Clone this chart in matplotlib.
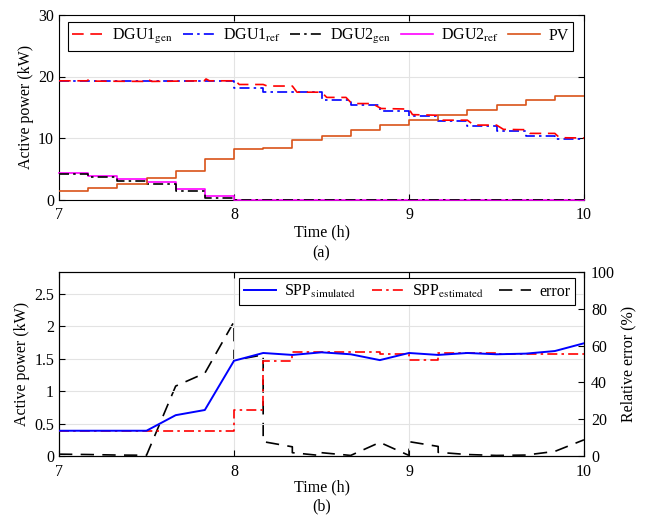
import numpy as np
import matplotlib
matplotlib.use("Agg")
import matplotlib.pyplot as plt

plt.rcParams['font.family'] = ['Liberation Serif', 'DejaVu Serif']
plt.rcParams['mathtext.fontset'] = 'stix'
plt.rcParams['font.size'] = 11.5

# ---- time grid (10-minute steps, 7 h to 10 h) ----
t_edges = [7.0, 7.1667, 7.3333, 7.5, 7.6667, 7.8333, 8.0, 8.1667, 8.3333, 8.5,
           8.6667, 8.8333, 9.0, 9.1667, 9.3333, 9.5, 9.6667, 9.8333, 10.0]

# ---- panel (a) ----
pv = [1.4, 1.9, 2.5, 3.5, 4.7, 6.6, 8.2, 8.4, 9.6, 10.4, 11.3, 12.1, 13.0, 13.8,
      14.6, 15.3, 16.2, 16.8]
dgu1_ref = [19.2, 19.2, 19.2, 19.2, 19.2, 19.2, 18.2, 17.4, 17.4, 16.2, 15.4, 14.4,
            13.5, 12.8, 11.9, 11.2, 10.4, 9.8]
dgu2_ref = [4.25, 3.9, 3.4, 2.8, 1.76, 0.6, 0, 0, 0, 0, 0, 0, 0, 0, 0, 0, 0, 0]
dgu2_gen = [4.1, 3.65, 3.05, 2.45, 1.45, 0.3, 0, 0, 0, 0, 0, 0, 0, 0, 0, 0, 0, 0]

t_gen1 = [7.0, 7.16, 7.17, 7.19, 7.5, 7.51, 7.53, 7.83, 7.84, 7.86, 7.99, 8.0, 8.03,
          8.1667, 8.19, 8.3333, 8.36, 8.5, 8.53, 8.64, 8.6667, 8.68, 8.79, 8.84,
          9.0, 9.02, 9.1667, 9.19, 9.3333, 9.37, 9.5, 9.54, 9.6667, 9.69, 9.8333,
          9.86, 10.0]
dgu1_gen = [19.3, 19.3, 19.5, 19.25, 19.2, 19.5, 19.2, 19.3, 19.6, 19.3, 19.3, 19.5,
            18.7, 18.7, 18.45, 18.45, 17.45, 17.45, 16.6, 16.6, 15.8, 15.6, 15.6,
            14.8, 14.7, 13.8, 13.7, 12.9, 12.9, 12.1, 12.1, 11.4, 11.35, 10.75,
            10.75, 10.05, 10.0]

# ---- panel (b) ----
spp_sim = [0.39, 0.39, 0.39, 0.39, 0.63, 0.71, 1.47, 1.59, 1.56, 1.60, 1.57, 1.48,
           1.59, 1.56, 1.59, 1.57, 1.58, 1.62, 1.74]
spp_est = [0.39, 0.39, 0.39, 0.39, 0.39, 0.39, 0.71, 1.47, 1.60, 1.60, 1.60, 1.57,
           1.48, 1.59, 1.59, 1.58, 1.58, 1.58]
t_err = [7.0, 7.1667, 7.3333, 7.5, 7.6667, 7.8333, 8.0, 8.0, 8.1667, 8.1667, 8.3333,
         8.3333, 8.5, 8.5, 8.6667, 8.8333, 9.0, 9.0, 9.1667, 9.1667, 9.3333, 9.5,
         9.6667, 9.8333, 10.0]
err = [1.0, 0.8, 0.5, 0.4, 38, 45, 73, 52, 55, 7.8, 5.0, 1.8, 0.2, 1.8, 0.3, 7.4,
       0.3, 7.8, 5.2, 2.0, 0.8, 0.3, 0.5, 2.5, 8.8]

def ext(v):
    return list(v) + [v[-1]]

fig = plt.figure(figsize=(6.46, 5.17), dpi=100)
W, H = 646, 517
axL, axR = 59, 584
ax1 = fig.add_axes([axL / W, 1 - 199.5 / H, (axR - axL) / W, 184.5 / H])
ax2 = fig.add_axes([axL / W, 1 - 456 / H, (axR - axL) / W, 184 / H])

def style(ax):
    ax.tick_params(direction='in', top=True, right=True, length=4, width=0.8)
    ax.tick_params(axis='x', pad=5.5)
    ax.grid(True, color='#e3e3e3', linewidth=0.8)
    ax.set_axisbelow(True)
    for s in ax.spines.values():
        s.set_linewidth(0.8)

lw = 1.2
h1, = ax1.plot(t_gen1, dgu1_gen, color='#FF0000', lw=lw, dashes=(7, 4), zorder=5,
               label=r'DGU1$_{\rm gen}$')
h2, = ax1.step(t_edges, ext(dgu1_ref), where='post', color='#0000FF', lw=lw,
               dashes=(6, 2.5, 1.5, 2.5), zorder=4, label=r'DGU1$_{\rm ref}$')
h3, = ax1.step(t_edges, ext(dgu2_gen), where='post', color='black', lw=lw,
               dashes=(6, 2.5, 1.5, 2.5), zorder=4, label=r'DGU2$_{\rm gen}$')
h4, = ax1.step(t_edges, ext(dgu2_ref), where='post', color='#FF00FF', lw=lw,
               zorder=3, clip_on=False, label=r'DGU2$_{\rm ref}$')
h5, = ax1.step(t_edges, ext(pv), where='post', color='#D95319', lw=lw, zorder=6,
               label='PV')
ax1.set_xlim(7, 10)
ax1.set_ylim(0, 30)
ax1.set_xticks([7, 8, 9, 10])
ax1.set_yticks([0, 10, 20, 30])
style(ax1)
ax1.set_xlabel('Time (h)', labelpad=1)
ax1.set_ylabel('Active power (kW)', labelpad=3)
leg1 = ax1.legend(handles=[h1, h2, h3, h4, h5], loc='upper center',
                  bbox_to_anchor=(0.498, 0.962), ncol=5, frameon=True, fancybox=False,
                  edgecolor='black', framealpha=1, handlelength=2.0,
                  columnspacing=0.6, handletextpad=0.5, borderpad=0.3,
                  borderaxespad=0)
leg1.get_frame().set_linewidth(0.8)
fig.text((axL + axR) / 2 / W, 1 - 253 / H, '(a)', ha='center', va='center')

# bottom
g1, = ax2.plot(t_edges, spp_sim, color='#0000FF', lw=1.4, zorder=5,
               label=r'SPP$_{\rm simulated}$')
g2, = ax2.step(t_edges, ext(spp_est), where='post', color='#FF0000', lw=lw,
               dashes=(6, 2.5, 1.5, 2.5), zorder=4, label=r'SPP$_{\rm estimated}$')
ax2.set_xlim(7, 10)
ax2.set_ylim(0, 2.84)
ax2.set_xticks([7, 8, 9, 10])
ax2.set_yticks([0, 0.5, 1, 1.5, 2, 2.5])
ax2.set_yticklabels(['0', '0.5', '1', '1.5', '2', '2.5'])
style(ax2)
ax2.tick_params(right=False)
ax2.set_xlabel('Time (h)', labelpad=0)
ax2.set_ylabel('Active power (kW)', labelpad=3)

ax3 = ax2.twinx()
g3, = ax3.plot(t_err, err, color='black', lw=lw, dashes=(8, 5), label='error')
ax3.set_ylim(0, 100)
ax3.set_yticks([0, 20, 40, 60, 80, 100])
ax3.tick_params(direction='in', length=4, width=0.8, pad=5)
ax3.set_ylabel('Relative error (%)', labelpad=4)
ax2.set_zorder(ax3.get_zorder() + 1)
ax2.patch.set_visible(False)
leg2 = ax2.legend(handles=[g1, g2, g3], loc='upper center',
                  bbox_to_anchor=(0.663, 0.967), ncol=3, frameon=True, fancybox=False,
                  edgecolor='black', framealpha=1, handlelength=2.0,
                  columnspacing=1.0, handletextpad=0.5, borderpad=0.3,
                  borderaxespad=0)
leg2.get_frame().set_linewidth(0.8)
fig.text((axL + axR) / 2 / W, 1 - 506 / H, '(b)', ha='center', va='center')

fig.savefig('out.png', dpi=100)
